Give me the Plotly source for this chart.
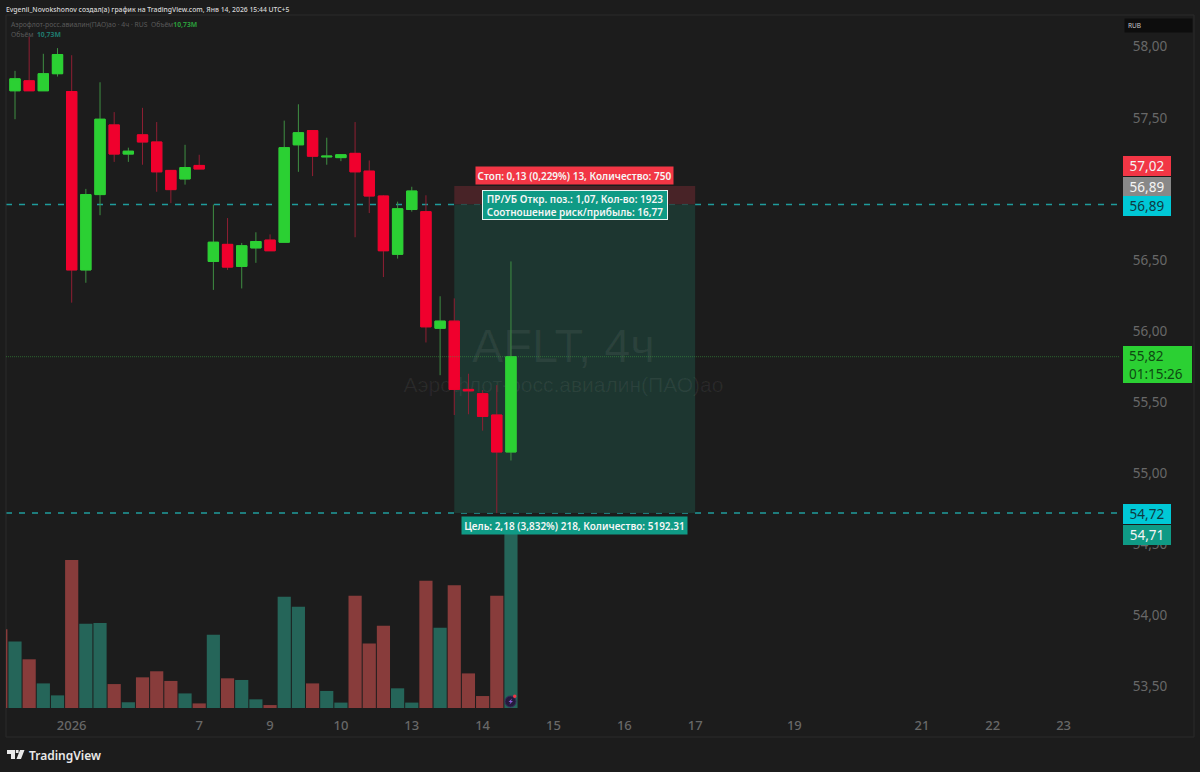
import plotly.graph_objects as go

index = list(range(36))
opens = [57.69,57.76,57.69,57.81,57.685,56.43,56.96,57.45,57.245,57.38,57.33,57.13,57.07,57.165,56.49,56.61,56.455,56.585,56.64,56.625,57.31,57.41,57.225,57.22,57.25,57.125,56.95,56.54,56.855,56.84,56.02,56.07,55.59,55.56,55.41,55.15]
highs = [57.83,58.07,57.95,57.99,57.94,57.00,57.75,57.54,57.29,57.57,57.47,57.13,57.31,57.24,56.89,56.795,56.62,56.695,56.68,57.48,57.595,57.41,57.36,57.245,57.47,57.20,56.955,56.91,57.015,56.955,56.245,56.23,55.70,55.585,55.62,56.49]
lows = [57.49,57.69,57.69,57.79,56.20,56.34,56.815,57.19,57.19,57.17,56.98,56.90,57.03,57.14,56.29,56.43,56.30,56.48,56.565,56.625,57.12,57.09,57.17,57.195,56.66,56.83,56.38,56.51,56.84,55.92,55.69,55.41,55.415,55.30,54.72,55.09]
closes = [57.774,57.69,57.81,57.945,56.43,56.96,57.49,57.245,57.265,57.33,57.12,56.995,57.15,57.14,56.625,56.45,56.60,56.63,56.565,57.29,57.395,57.23,57.23,57.24,57.12,56.95,56.565,56.86,56.985,56.03,56.07,55.59,55.58,55.40,55.15,55.82]

vol_index = list(range(-1, 36))
volumes = [4.80,4.05,2.97,1.50,0.77,9.02,5.14,5.18,1.46,0.35,1.87,2.24,1.65,0.89,0.28,4.47,1.81,1.71,0.53,0.18,6.79,6.18,1.50,1.04,0.33,6.85,3.94,5.02,1.20,0.33,7.76,4.90,7.48,2.11,0.73,6.85,10.73]
vol_up = [0,1,0,1,1,0,1,1,0,1,0,0,0,1,0,1,0,1,1,0,1,1,0,1,1,0,0,0,1,1,0,1,0,0,0,0,1]

y_tick_vals = [53.5,54.0,54.5,55.0,55.5,56.0,56.5,57.5,58.0]
y_tick_text = ["53,50","54,00","54,50","55,00","55,50","56,00","56,50","57,50","58,00"]
x_tick_vals = [4,13,18,23,28,33,38,43,48,55,64,69,74]
x_tick_text = ["2026","7","9","10","13","14","15","16","17","19","21","22","23"]

stop_price = 57.02
entry_price = 56.89
target_price = 54.72
target_fill = 54.71
last_price = 55.82
tool_start, tool_end = 31, 48

BG = "#1c1c1c"
GREEN = "#2bd033"
RED = "#f0002d"
WICK_G = "#3f8f43"
WICK_R = "#8f1f33"
VOL_G = "#256559"
VOL_R = "#883c3b"
TICK = "#686868"
FONT = "Noto Sans"

def px(x): return (x - 6) / 1114
def py(y): return 1 - (y - 15) / 693

fig = go.Figure()
fig.add_trace(go.Bar(x=vol_index, y=volumes, yaxis="y2",
                     marker=dict(color=[VOL_G if u else VOL_R for u in vol_up], line_width=0),
                     hoverinfo="skip"))
fig.add_trace(go.Candlestick(x=index, open=opens, high=highs, low=lows, close=closes,
    increasing=dict(line=dict(color=WICK_G, width=1), fillcolor=GREEN),
    decreasing=dict(line=dict(color=WICK_R, width=1), fillcolor=RED),
    whiskerwidth=0, hoverinfo="skip"))
fig.add_trace(go.Candlestick(x=index, open=opens, close=closes,
    high=[max(o, c) for o, c in zip(opens, closes)],
    low=[min(o, c) for o, c in zip(opens, closes)],
    increasing=dict(line=dict(color=GREEN, width=1), fillcolor=GREEN),
    decreasing=dict(line=dict(color=RED, width=1), fillcolor=RED),
    whiskerwidth=0, hoverinfo="skip"))

shapes = []
for lv in (entry_price, target_price):
    shapes.append(dict(type="line", xref="paper", x0=0, x1=1, yref="y", y0=lv, y1=lv, layer="below",
                       line=dict(color="#1f9c9c", width=1.5, dash="6px 7px")))
shapes.append(dict(type="rect", xref="x", x0=tool_start, x1=tool_end, yref="y", y0=entry_price, y1=stop_price,
                   layer="below", fillcolor="rgba(76,36,40,0.92)", line_width=0))
shapes.append(dict(type="rect", xref="x", x0=tool_start, x1=tool_end, yref="y", y0=target_price, y1=entry_price,
                   layer="below", fillcolor="rgba(29,56,50,0.93)", line_width=0))
# watermark
shapes.append(dict(type="rect", xref="x", yref="y", x0=24.2, x1=53.2, y0=55.73, y1=56.13,
                   layer="below", line_width=0, fillcolor="rgba(0,0,0,0)",
                   label=dict(text="AFLT, 4ч", font=dict(family="Liberation Sans", size=47, color="rgba(255,255,255,0.06)"),
                              textposition="middle center")))
shapes.append(dict(type="rect", xref="x", yref="y", x0=24.2, x1=53.2, y0=55.55, y1=55.73,
                   layer="below", line_width=0, fillcolor="rgba(0,0,0,0)",
                   label=dict(text="Аэрофлот-росс.авиалин(ПАО)ао", font=dict(family="Liberation Sans", size=21, color="rgba(255,255,255,0.06)"),
                              textposition="middle center")))
shapes.append(dict(type="line", xref="paper", x0=0, x1=1, yref="y", y0=last_price, y1=last_price, layer="above",
                   line=dict(color="rgba(60,170,65,0.5)", width=1, dash="1px 1px")))
shapes.append(dict(type="rect", xref="paper", yref="paper", x0=px(6), x1=px(1194), y0=py(737), y1=py(15),
                   line=dict(color="#2a2a2a", width=1), fillcolor="rgba(0,0,0,0)", layer="below"))
def P(x, y): return f"{px(x):.5f},{py(y):.5f}"
logo = f"M{P(7,750)} L{P(15,750)} L{P(15,759)} L{P(11,759)} L{P(11,754)} L{P(7,754)} Z " \
       f"M{P(20,750)} L{P(24.5,750)} L{P(21,759)} L{P(16.5,759)} Z " \
       f"M{P(15.8,750)} L{P(18.6,750)} L{P(18.6,753)} L{P(15.8,753)} Z"
shapes.append(dict(type="path", xref="paper", yref="paper", path=logo, fillcolor="#e8e8e8", line_width=0))
shapes.append(dict(type="circle", xref="paper", yref="paper", x0=px(505), x1=px(516), y0=py(707), y1=py(696),
                   fillcolor="#241a3c", line=dict(color="#3a2a5e", width=1)))
bolt = f"M{P(512,698.5)} L{P(508.5,702)} L{P(510.5,702)} L{P(509.5,704.5)} L{P(513,701)} L{P(511,701)} Z"
shapes.append(dict(type="path", xref="paper", yref="paper", path=bolt, fillcolor="#8e5bd8", line_width=0))
shapes.append(dict(type="circle", xref="paper", yref="paper", x0=px(513), x1=px(516.5), y0=py(698), y1=py(694.5),
                   fillcolor="#f23645", line_width=0))

def tag(price, yshift, color, fg, text, w=48, h=20):
    return dict(xref="paper", x=px(1123), xanchor="left", yref="y", y=price, yanchor="middle", yshift=yshift,
                width=w, height=h, bgcolor=color, text=text, showarrow=False, borderpad=0, borderwidth=0,
                font=dict(family=FONT, size=13.5, color=fg))

def head(x, y, text, size, color, weight=400):
    return dict(xref="paper", yref="paper", x=px(x), y=py(y), xanchor="left", yanchor="middle", text=text,
                showarrow=False, font=dict(family=FONT, size=size, color=color, weight=weight), borderpad=0)

mid = (tool_start + tool_end) / 2
annotations = [
    tag(stop_price, 20, "#f23645", "#f4f4f4", "57,02"),
    tag(entry_price, 18, "#888888", "#f4f4f4", "56,89"),
    tag(entry_price, -1, "#00c8d6", "#0f3a42", "56,89"),
    tag(target_price, -1, "#00c8d6", "#0f3a42", "54,72"),
    tag(target_fill, -20, "#0f9a85", "#f4f4f4", "54,71"),
    tag(last_price, -8, GREEN, "#0e4a12", "&nbsp;", w=69, h=37),
    dict(xref="paper", x=px(1127), xanchor="left", yref="y", y=last_price, yanchor="middle", yshift=-8, showarrow=False,
         align="left", text="55,82<br>01:15:26", font=dict(family=FONT, size=13.5, color="#0e4a12")),
    dict(xref="x", x=mid, xanchor="center", yref="y", y=stop_price, yanchor="bottom", yshift=1, width=197, height=17,
         bgcolor="#f23645", showarrow=False, borderpad=0,
         text="Стоп: 0,13 (0,229%) 13, Количество: 750", font=dict(family=FONT, size=10, color="#f6f6f6", weight=600)),
    dict(xref="x", x=mid, xanchor="center", yref="y", y=entry_price, yanchor="middle", width=184, height=28,
         bgcolor="#0f9a85", bordercolor="#e8f4f2", borderwidth=1, borderpad=0, showarrow=False,
         text="ПР/УБ Откр. поз.: 1,07, Кол-во: 1923<br>Соотношение риск/прибыль: 16,77",
         font=dict(family=FONT, size=10, color="#f6f6f6", weight=600)),
    dict(xref="x", x=mid, xanchor="center", yref="y", y=target_price, yanchor="top", yshift=-3, width=225, height=17,
         bgcolor="#0f9a85", showarrow=False, borderpad=0,
         text="Цель: 2,18 (3,832%) 218, Количество: 5192.31", font=dict(family=FONT, size=10, color="#f6f6f6", weight=600)),
    head(5, 9, "Evgenii_Novokshonov создал(а) график на TradingView.com, Янв 14, 2026 15:44 UTC+5", 6.8, "#d8d8d8", 500),
    head(10, 24, "Аэрофлот-росс.авиалин(ПАО)ао · 4ч · RUS &nbsp;Объём<span style='color:#2a9a3a'><b>10,73M</b></span>", 6.8, "#5a5a5a"),
    head(10, 34, "Объём &nbsp;<span style='color:#1f7a6e'><b>10,73M</b></span>", 6.8, "#5a5a5a"),
    head(28, 755, "TradingView", 12, "#e8e8e8", 600),
    dict(xref="paper", yref="paper", x=px(1124), y=py(25.5), xanchor="left", yanchor="middle", width=67, height=13,
         bgcolor="#0d0d0d", showarrow=False, borderpad=0, text="&nbsp;", font=dict(size=7)),
    head(1127, 25.5, "RUB", 6.5, "#c8c8c8"),
]

fig.update_layout(
    width=1200, height=772,
    margin=dict(l=6, r=80, t=15, b=64, pad=0),
    paper_bgcolor=BG, plot_bgcolor=BG,
    showlegend=False, hovermode=False,
    boxmode="overlay", boxgap=0.27, boxgroupgap=0, bargap=0.07,
    xaxis=dict(range=[-0.635, 77.98], rangeslider=dict(visible=False), showgrid=False, zeroline=False,
               tickmode="array", tickvals=x_tick_vals, ticktext=x_tick_text, ticks="outside", ticklen=5,
               tickcolor=BG, showline=False, tickfont=dict(family=FONT, size=13, color=TICK, weight=500)),
    yaxis=dict(range=[53.3495, 58.2229], side="right", showgrid=False, zeroline=False, showline=False,
               tickmode="array", tickvals=y_tick_vals, ticktext=y_tick_text, ticks="outside", ticklen=9,
               tickcolor=BG, tickfont=dict(family=FONT, size=13.5, color=TICK)),
    yaxis2=dict(range=[0, 42.26], overlaying="y", visible=False, fixedrange=True),
    shapes=shapes, annotations=annotations,
)
fig.write_html("out.html", config=dict(displayModeBar=False),
               post_script="document.body.style.margin='0';document.body.style.overflow='hidden';")
